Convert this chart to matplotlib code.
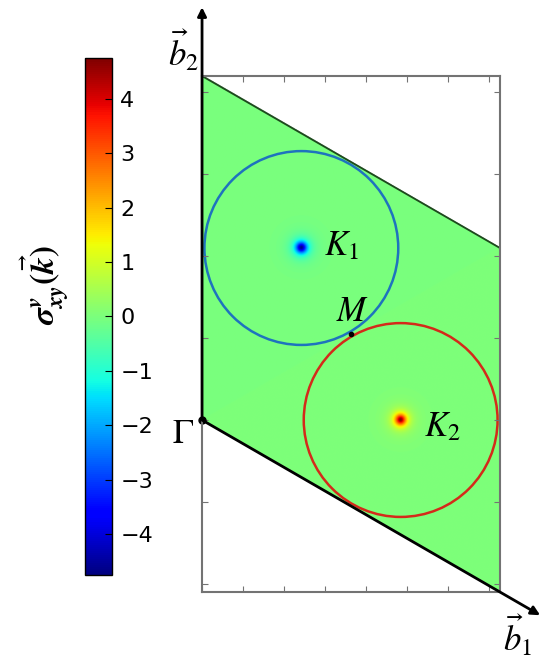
import numpy as np
import matplotlib
matplotlib.use("Agg")
import matplotlib.pyplot as plt
import matplotlib.patches as mpatches

plt.rcParams['mathtext.fontset'] = 'stix'

# reciprocal lattice, |b1| = |b2| = 4*pi/3, 120 degrees apart
B = 4 * np.pi / 3
b1 = np.array([B * np.sqrt(3) / 2, -B / 2])
b2 = np.array([0.0, B])

# valley points in (b1, b2) fractions and their curvature peaks
k_frac = [(1 / 3, 2 / 3), (2 / 3, 1 / 3)]
k_labels = ['$K_1$', '$K_2$']
peak_values = [-4.7, 4.7]
peak_width = 0.08
circle_radius = 1.18
circle_colors = ['#1e73be', '#d42a1a']

cbar_ticks = [-4, -3, -2, -1, 0, 1, 2, 3, 4]
vmin, vmax = -4.75, 4.75


def curvature_map(nx=700, ny=1200):
    xmax = b1[0]
    x = np.linspace(0, xmax, nx)
    y = np.linspace(-B / 2, B, ny)
    X, Y = np.meshgrid(x, y)
    s = X / b1[0]
    t = (Y - s * b1[1]) / B
    field = np.zeros_like(X)
    for (fs, ft), amp in zip(k_frac, peak_values):
        k = fs * b1 + ft * b2
        r2 = (X - k[0]) ** 2 + (Y - k[1]) ** 2
        field += amp / (1 + r2 / peak_width ** 2) ** 1.5
    outside = (s < 0) | (s > 1) | (t < 0) | (t > 1)
    return np.ma.masked_where(outside, field)


def main():
    fig = plt.figure(figsize=(5.42, 6.57), dpi=100)
    ax = fig.add_axes([0.3727, 0.0989, 0.5498, 0.7854])

    field = curvature_map()
    im = ax.imshow(field, extent=[0, b1[0], -B / 2, B], origin='lower',
                   cmap='jet', vmin=vmin, vmax=vmax, aspect='equal',
                   interpolation='bilinear')
    ax.set_xlim(0, b1[0])
    ax.set_ylim(-B / 2, B)

    ax.set_xticks(np.arange(0, 3.6, 0.5))
    ax.set_yticks(np.arange(-2, 5, 1))
    ax.tick_params(direction='in', top=True, right=True, length=4,
                   color='0.45', labelbottom=False, labelleft=False)
    for sp in ax.spines.values():
        sp.set_color('0.45')
        sp.set_linewidth(1.5)

    # top edge of the cell
    top = b1 + b2
    ax.plot([0, top[0]], [B, top[1]], color='#1d4a1d', lw=1.3)

    # reciprocal vectors
    arrow = dict(arrowstyle='-|>', color='k', lw=2.0, mutation_scale=13,
                 shrinkA=0, shrinkB=0)
    ax.annotate('', xy=(0, 1.2 * B), xytext=(0, 0), arrowprops=arrow,
                annotation_clip=False)
    ax.annotate('', xy=tuple(1.135 * b1), xytext=(0, 0), arrowprops=arrow,
                annotation_clip=False)

    # valley circles
    for (fs, ft), col in zip(k_frac, circle_colors):
        k = fs * b1 + ft * b2
        ax.add_patch(mpatches.Circle(k, circle_radius, fill=False, ec=col,
                                     lw=1.8, clip_on=False))
    k1 = k_frac[0][0] * b1 + k_frac[0][1] * b2
    k2 = k_frac[1][0] * b1 + k_frac[1][1] * b2
    m = 0.5 * (b1 + b2)

    ax.plot([0], [0], 'o', color='k', ms=5, clip_on=False)
    ax.plot([m[0]], [m[1]], 'o', color='k', ms=3)

    fs = 25
    ax.text(k1[0] + 0.28, k1[1] + 0.04, k_labels[0], fontsize=fs,
            ha='left', va='center')
    ax.text(k2[0] + 0.28, k2[1] - 0.08, k_labels[1], fontsize=fs,
            ha='left', va='center')
    ax.text(m[0] + 0.02, m[1] + 0.28, '$M$', fontsize=fs,
            ha='center', va='center')
    ax.text(-0.1, -0.16, r'$\Gamma$', fontsize=fs, ha='right', va='center',
            clip_on=False)
    ax.text(-0.03, 4.5, r'$\vec{b}_2$', fontsize=fs, ha='right',
            va='center', clip_on=False)
    ax.text(3.84, -2.62, r'$\vec{b}_1$', fontsize=fs, ha='center',
            va='center', clip_on=False)

    # colorbar on the left
    cax = fig.add_axes([0.157, 0.1248, 0.0498, 0.787])
    cb = fig.colorbar(im, cax=cax, ticks=cbar_ticks)
    cb.ax.tick_params(direction='in', length=5, labelsize=16, pad=6)
    cb.outline.set_linewidth(1.0)
    fig.text(0.083, 0.566, r'$\mathbfit{\sigma}^{\mathbfit{v}}_{\mathbfit{xy}}'
             r'\mathbf{(}\vec{\mathbfit{k}}\mathbf{)}$',
             rotation=90, fontsize=24, ha='center', va='center')

    fig.savefig('out.png', dpi=100)


if __name__ == '__main__':
    main()
